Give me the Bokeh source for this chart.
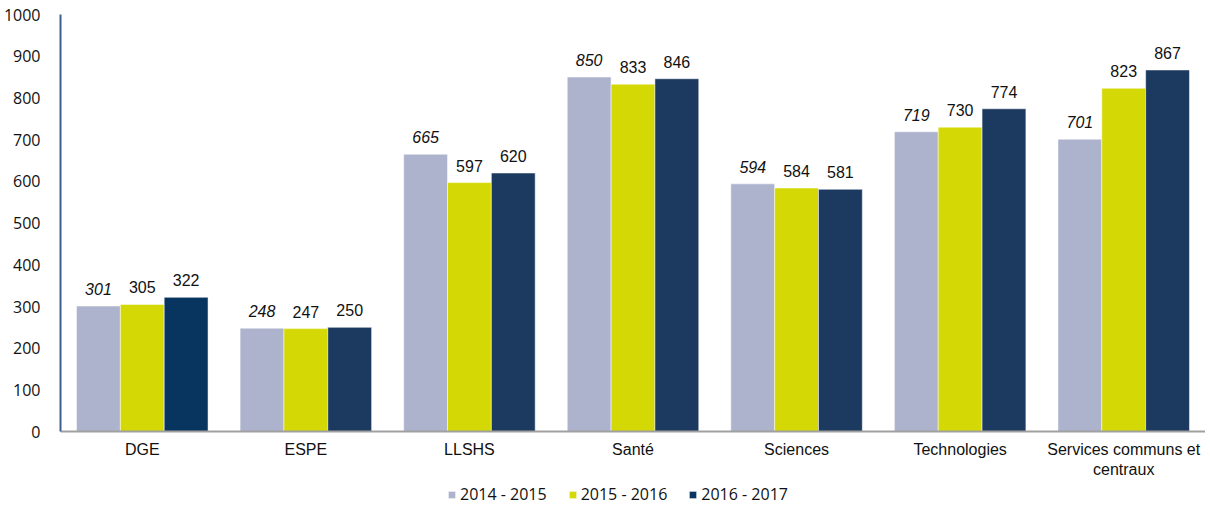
from bokeh.plotting import figure
from bokeh.models import ColumnDataSource, Legend, LegendItem, FixedTicker, Range1d, LabelSet
from bokeh.core.properties import value
from bokeh.embed import file_html
from bokeh.resources import INLINE

categories = ["DGE", "ESPE", "LLSHS", "Santé", "Sciences", "Technologies", "Services communs et\ncentraux"]
series_names = ["2014 - 2015", "2015 - 2016", "2016 - 2017"]
v2014 = [301, 248, 665, 850, 594, 719, 701]
v2015 = [305, 247, 597, 833, 584, 730, 823]
v2016 = [322, 250, 620, 846, 581, 774, 867]
y_ticks = [0, 100, 200, 300, 400, 500, 600, 700, 800, 900, 1000]

colors = ["#adb2cd", "#d4d805", "#1c3a5f"]
dark_per_bar = ["#08355f"] + ["#1c3a5f"] * 6

p = figure(frame_width=1145, frame_height=491, output_backend="svg", toolbar_location=None,
           x_range=Range1d(0, len(categories)), y_range=Range1d(-177, 1000),
           min_border_left=60, min_border_right=0, min_border_top=14, min_border_bottom=0)
p.outline_line_color = None
p.grid.visible = False
p.background_fill_color = "white"

bw = 0.268
all_vals = [v2014, v2015, v2016]
renderers = []
for j, vals in enumerate(all_vals):
    xs = [i + 0.5 + (j - 1) * bw for i in range(len(categories))]
    fills = dark_per_bar if j == 2 else [colors[j]] * len(vals)
    src = ColumnDataSource(dict(x=xs, top=vals, lab=[str(v) for v in vals], fill=fills))
    r = p.vbar(x="x", top="top", bottom=0, width=bw, source=src, fill_color="fill",
               line_color="white", line_width=0.5)
    renderers.append(r)
    ls = LabelSet(x="x", y="top", text="lab", source=src, text_align="center",
                  text_baseline="middle", y_offset=17, text_font=value("Liberation Sans"),
                  text_font_size="16px", text_color="#111111",
                  text_font_style="italic" if j == 0 else "normal")
    p.add_layout(ls)

# x axis drawn at y = 0 inside the frame
p.xaxis.fixed_location = 0
p.xaxis.ticker = FixedTicker(ticks=[i + 0.5 for i in range(len(categories))])
p.xaxis.major_label_overrides = {i + 0.5: c for i, c in enumerate(categories)}
p.xaxis.major_tick_line_color = None
p.xaxis.minor_tick_line_color = None
p.xaxis.axis_line_color = "#a0a0a0"
p.xaxis.axis_line_width = 2
p.xaxis.major_label_text_font = "Liberation Sans"
p.xaxis.major_label_text_font_size = "16px"
p.xaxis.major_label_text_color = "#111111"
p.xaxis.major_label_standoff = 3

# y axis
p.yaxis.ticker = FixedTicker(ticks=y_ticks)
p.yaxis.bounds = (0, 1000)
p.yaxis.major_tick_line_color = None
p.yaxis.minor_tick_line_color = None
p.yaxis.axis_line_color = "#3d5f8f"
p.yaxis.axis_line_width = 2
p.yaxis.major_label_text_font = "Open Sans"
p.yaxis.major_label_text_font_size = "16px"
p.yaxis.major_label_text_color = "#111111"
p.yaxis.major_label_standoff = 14

legend = Legend(items=[LegendItem(label=series_names[k], renderers=[renderers[k]]) for k in range(3)],
                orientation="horizontal", location=(387, 0),
                label_text_font="Open Sans", label_text_font_size="16px",
                label_text_color="#111111", glyph_width=9, glyph_height=9,
                spacing=21, label_standoff=4, border_line_color=None,
                background_fill_alpha=0, padding=0, margin=0, label_height=16)
p.add_layout(legend)

open("out.html", "w").write(file_html(p, INLINE))
